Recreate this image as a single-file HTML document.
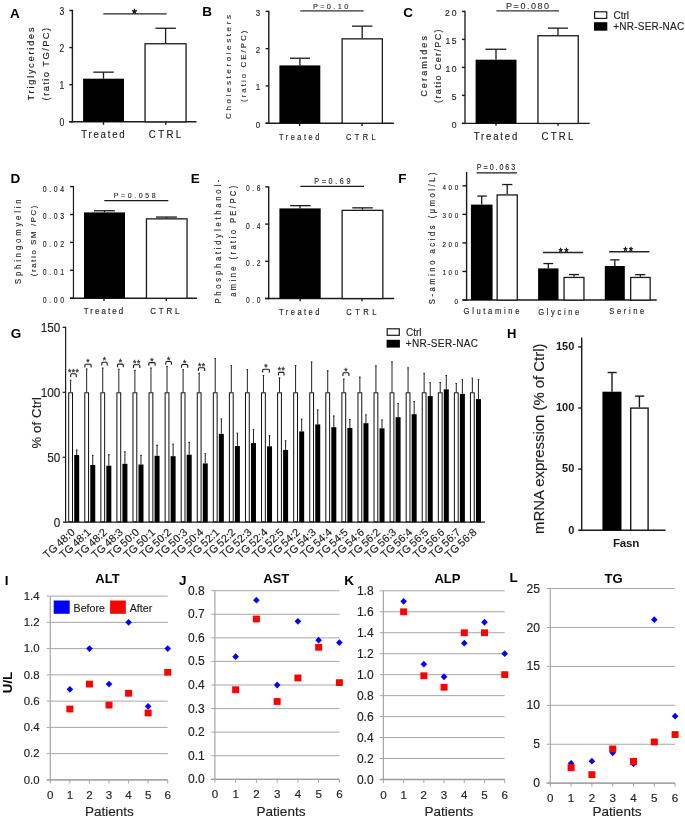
<!DOCTYPE html>
<html><head><meta charset="utf-8"><title>Figure</title>
<style>html,body{margin:0;padding:0;background:#fff;width:685px;height:821px;overflow:hidden}svg{display:block}</style>
</head><body>
<svg width="685" height="821" viewBox="0 0 685 821" style="will-change:transform" font-family='"Liberation Sans", sans-serif'>
<rect width="685" height="821" fill="#fff"/>
<text x="10.06" y="17.50" font-size="13.5" font-weight="bold" fill="#000" >A</text>
<line x1="72.40" y1="9.80" x2="72.40" y2="122.50" stroke="#1a1a1a" stroke-width="1.4" />
<line x1="69.30" y1="121.80" x2="196.50" y2="121.80" stroke="#1a1a1a" stroke-width="1.4" />
<line x1="69.30" y1="121.80" x2="72.40" y2="121.80" stroke="#1a1a1a" stroke-width="1.4" />
<line x1="69.30" y1="84.70" x2="72.40" y2="84.70" stroke="#1a1a1a" stroke-width="1.4" />
<line x1="69.30" y1="47.60" x2="72.40" y2="47.60" stroke="#1a1a1a" stroke-width="1.4" />
<line x1="69.30" y1="10.50" x2="72.40" y2="10.50" stroke="#1a1a1a" stroke-width="1.4" />
<text x="0.00" y="0.00" font-size="10.1" text-anchor="end" transform="translate(64.24 126.07) scale(0.85 1)" stroke="#1e1e1e" stroke-width="0.15" fill="#1e1e1e" >0</text>
<text x="0.00" y="0.00" font-size="10.1" text-anchor="end" transform="translate(64.24 88.97) scale(0.85 1)" stroke="#1e1e1e" stroke-width="0.15" fill="#1e1e1e" >1</text>
<text x="0.00" y="0.00" font-size="10.1" text-anchor="end" transform="translate(64.24 51.87) scale(0.85 1)" stroke="#1e1e1e" stroke-width="0.15" fill="#1e1e1e" >2</text>
<text x="0.00" y="0.00" font-size="10.1" text-anchor="end" transform="translate(64.24 14.77) scale(0.85 1)" stroke="#1e1e1e" stroke-width="0.15" fill="#1e1e1e" >3</text>
<rect x="83.10" y="78.70" width="40.90" height="43.10" fill="#000"/>
<line x1="103.50" y1="78.70" x2="103.50" y2="72.15" stroke="#1a1a1a" stroke-width="1.3" />
<line x1="93.30" y1="72.15" x2="113.70" y2="72.15" stroke="#1a1a1a" stroke-width="1.3" />
<rect x="145.05" y="43.75" width="41.00" height="78.10" fill="#fff" stroke="#1a1a1a" stroke-width="1.3"/>
<line x1="165.60" y1="43.10" x2="165.60" y2="28.25" stroke="#1a1a1a" stroke-width="1.3" />
<line x1="155.40" y1="28.25" x2="175.90" y2="28.25" stroke="#1a1a1a" stroke-width="1.3" />
<line x1="103.50" y1="121.80" x2="103.50" y2="124.80" stroke="#1a1a1a" stroke-width="1.4" />
<line x1="165.70" y1="121.80" x2="165.70" y2="124.80" stroke="#1a1a1a" stroke-width="1.4" />
<text x="0.00" y="0.00" font-size="11.2" textLength="50.35" lengthAdjust="spacing" transform="translate(81.30 137.90) scale(0.86 1)" stroke="#1e1e1e" stroke-width="0.15" fill="#1e1e1e" >Treated</text>
<text x="0.00" y="0.00" font-size="11.2" textLength="37.67" lengthAdjust="spacing" transform="translate(148.80 137.90) scale(0.86 1)" stroke="#1e1e1e" stroke-width="0.15" fill="#1e1e1e" >CTRL</text>
<line x1="103.30" y1="13.90" x2="166.70" y2="13.90" stroke="#262626" stroke-width="1.4" />
<text x="134.35" y="18.20" font-size="12.5" text-anchor="middle" stroke="#111" stroke-width="0.55" fill="#111" >*</text>
<text x="33.80" y="64.00" font-size="9" text-anchor="middle" textLength="72.80" lengthAdjust="spacing" transform="rotate(-90 33.80 64.00)" stroke="#1e1e1e" stroke-width="0.15" fill="#1e1e1e" >Triglycerides</text>
<text x="48.80" y="64.10" font-size="9.4" text-anchor="middle" textLength="72.60" lengthAdjust="spacing" transform="rotate(-90 48.80 64.10)" stroke="#1e1e1e" stroke-width="0.15" fill="#1e1e1e" >(ratio TG/PC)</text>
<text x="202.20" y="15.50" font-size="13.5" font-weight="bold" fill="#000" >B</text>
<line x1="268.80" y1="10.69" x2="268.80" y2="123.90" stroke="#1a1a1a" stroke-width="1.4" />
<line x1="265.60" y1="123.20" x2="393.80" y2="123.20" stroke="#1a1a1a" stroke-width="1.4" />
<line x1="265.60" y1="123.20" x2="268.80" y2="123.20" stroke="#1a1a1a" stroke-width="1.4" />
<line x1="265.60" y1="85.93" x2="268.80" y2="85.93" stroke="#1a1a1a" stroke-width="1.4" />
<line x1="265.60" y1="48.66" x2="268.80" y2="48.66" stroke="#1a1a1a" stroke-width="1.4" />
<line x1="265.60" y1="11.39" x2="268.80" y2="11.39" stroke="#1a1a1a" stroke-width="1.4" />
<text x="0.00" y="0.00" font-size="8.7" text-anchor="end" transform="translate(260.22 127.59) scale(0.91 1)" stroke="#1e1e1e" stroke-width="0.15" fill="#1e1e1e" >0</text>
<text x="0.00" y="0.00" font-size="8.7" text-anchor="end" transform="translate(260.22 90.32) scale(0.91 1)" stroke="#1e1e1e" stroke-width="0.15" fill="#1e1e1e" >1</text>
<text x="0.00" y="0.00" font-size="8.7" text-anchor="end" transform="translate(260.22 53.05) scale(0.91 1)" stroke="#1e1e1e" stroke-width="0.15" fill="#1e1e1e" >2</text>
<text x="0.00" y="0.00" font-size="8.7" text-anchor="end" transform="translate(260.22 15.78) scale(0.91 1)" stroke="#1e1e1e" stroke-width="0.15" fill="#1e1e1e" >3</text>
<rect x="279.40" y="65.40" width="40.90" height="57.80" fill="#000"/>
<line x1="299.90" y1="65.40" x2="299.90" y2="58.25" stroke="#1a1a1a" stroke-width="1.3" />
<line x1="290.00" y1="58.25" x2="310.00" y2="58.25" stroke="#1a1a1a" stroke-width="1.3" />
<rect x="342.15" y="38.85" width="40.20" height="84.40" fill="#fff" stroke="#1a1a1a" stroke-width="1.3"/>
<line x1="362.20" y1="38.20" x2="362.20" y2="26.15" stroke="#1a1a1a" stroke-width="1.3" />
<line x1="352.00" y1="26.15" x2="372.40" y2="26.15" stroke="#1a1a1a" stroke-width="1.3" />
<line x1="299.60" y1="123.20" x2="299.60" y2="126.00" stroke="#1a1a1a" stroke-width="1.4" />
<line x1="362.00" y1="123.20" x2="362.00" y2="126.00" stroke="#1a1a1a" stroke-width="1.4" />
<text x="0.00" y="0.00" font-size="8.7" textLength="47.41" lengthAdjust="spacing" transform="translate(279.00 139.80) scale(0.85 1)" stroke="#1e1e1e" stroke-width="0.15" fill="#1e1e1e" >Treated</text>
<text x="0.00" y="0.00" font-size="8.7" textLength="34.82" lengthAdjust="spacing" transform="translate(346.00 139.80) scale(0.85 1)" stroke="#1e1e1e" stroke-width="0.15" fill="#1e1e1e" >CTRL</text>
<line x1="300.20" y1="10.90" x2="363.60" y2="10.90" stroke="#333" stroke-width="1.4" />
<text x="312.90" y="8.70" font-size="7.4" textLength="35.40" lengthAdjust="spacing" stroke="#333" stroke-width="0.15" fill="#333" >P=0.10</text>
<text x="230.90" y="67.05" font-size="8.0" text-anchor="middle" textLength="103.90" lengthAdjust="spacing" transform="rotate(-90 230.90 67.05)" stroke="#2a2a2a" stroke-width="0.1" fill="#2a2a2a" >Cholesterolesters</text>
<text x="246.20" y="66.30" font-size="7.9" text-anchor="middle" textLength="71.40" lengthAdjust="spacing" transform="rotate(-90 246.20 66.30)" stroke="#2a2a2a" stroke-width="0.1" fill="#2a2a2a" >(ratio CE/PC)</text>
<text x="403.15" y="17.40" font-size="13.5" font-weight="bold" fill="#000" >C</text>
<line x1="465.00" y1="10.74" x2="465.00" y2="123.90" stroke="#5e5e5e" stroke-width="1.9" />
<line x1="461.90" y1="123.40" x2="589.70" y2="123.40" stroke="#1a1a1a" stroke-width="1.2" />
<line x1="461.90" y1="123.40" x2="465.00" y2="123.40" stroke="#1a1a1a" stroke-width="1.4" />
<line x1="461.90" y1="95.41" x2="465.00" y2="95.41" stroke="#1a1a1a" stroke-width="1.4" />
<line x1="461.90" y1="67.42" x2="465.00" y2="67.42" stroke="#1a1a1a" stroke-width="1.4" />
<line x1="461.90" y1="39.43" x2="465.00" y2="39.43" stroke="#1a1a1a" stroke-width="1.4" />
<line x1="461.90" y1="11.44" x2="465.00" y2="11.44" stroke="#1a1a1a" stroke-width="1.4" />
<text x="0.00" y="0.00" font-size="9.4" text-anchor="end" transform="translate(456.65 127.93) scale(0.92 1)" stroke="#1e1e1e" stroke-width="0.15" fill="#1e1e1e" >0</text>
<text x="0.00" y="0.00" font-size="9.4" text-anchor="end" transform="translate(456.65 99.94) scale(0.92 1)" stroke="#1e1e1e" stroke-width="0.15" fill="#1e1e1e" >5</text>
<text x="0.00" y="0.00" font-size="9.4" textLength="12.07" lengthAdjust="spacing" transform="translate(445.50 71.95) scale(0.92 1)" stroke="#1e1e1e" stroke-width="0.15" fill="#1e1e1e" >10</text>
<text x="0.00" y="0.00" font-size="9.4" textLength="12.07" lengthAdjust="spacing" transform="translate(445.50 43.96) scale(0.92 1)" stroke="#1e1e1e" stroke-width="0.15" fill="#1e1e1e" >15</text>
<text x="0.00" y="0.00" font-size="9.4" textLength="12.50" lengthAdjust="spacing" transform="translate(445.10 15.97) scale(0.92 1)" stroke="#1e1e1e" stroke-width="0.15" fill="#1e1e1e" >20</text>
<rect x="475.60" y="59.70" width="40.90" height="63.70" fill="#000"/>
<line x1="496.00" y1="59.70" x2="496.00" y2="49.25" stroke="#1a1a1a" stroke-width="1.3" />
<line x1="485.40" y1="49.25" x2="506.30" y2="49.25" stroke="#1a1a1a" stroke-width="1.3" />
<rect x="537.95" y="35.75" width="40.30" height="87.70" fill="#fff" stroke="#1a1a1a" stroke-width="1.3"/>
<line x1="558.00" y1="35.10" x2="558.00" y2="28.15" stroke="#1a1a1a" stroke-width="1.3" />
<line x1="548.00" y1="28.15" x2="568.00" y2="28.15" stroke="#1a1a1a" stroke-width="1.3" />
<line x1="496.00" y1="123.40" x2="496.00" y2="125.80" stroke="#1a1a1a" stroke-width="1.4" />
<line x1="558.00" y1="123.40" x2="558.00" y2="125.80" stroke="#1a1a1a" stroke-width="1.4" />
<text x="0.00" y="0.00" font-size="10.3" textLength="46.77" lengthAdjust="spacing" transform="translate(473.80 139.50) scale(0.93 1)" stroke="#1e1e1e" stroke-width="0.15" fill="#1e1e1e" >Treated</text>
<text x="0.00" y="0.00" font-size="10.3" textLength="34.30" lengthAdjust="spacing" transform="translate(541.50 139.50) scale(0.93 1)" stroke="#1e1e1e" stroke-width="0.15" fill="#1e1e1e" >CTRL</text>
<line x1="496.50" y1="10.80" x2="558.90" y2="10.80" stroke="#333" stroke-width="1.3" />
<text x="506.10" y="8.60" font-size="9.0" textLength="42.90" lengthAdjust="spacing" stroke="#333" stroke-width="0.15" fill="#333" >P=0.080</text>
<text x="0.00" y="0.00" font-size="9.9" text-anchor="middle" textLength="66.81" lengthAdjust="spacing" transform="translate(426.60 66.40) rotate(-90) scale(0.91 1)" stroke="#1e1e1e" stroke-width="0.15" fill="#1e1e1e" >Ceramides</text>
<text x="0.00" y="0.00" font-size="9.9" text-anchor="middle" textLength="80.88" lengthAdjust="spacing" transform="translate(441.30 66.20) rotate(-90) scale(0.91 1)" stroke="#1e1e1e" stroke-width="0.15" fill="#1e1e1e" >(ratio Cer/PC)</text>
<rect x="594.60" y="11.80" width="12.10" height="6.60" fill="#fff" stroke="#1a1a1a" stroke-width="1.2"/>
<rect x="594.00" y="22.20" width="13.30" height="8.50" fill="#000"/>
<text x="613.50" y="18.60" font-size="10" stroke="#222" stroke-width="0.15" fill="#222" >Ctrl</text>
<text x="613.30" y="29.90" font-size="10" textLength="70.90" lengthAdjust="spacing" stroke="#222" stroke-width="0.15" fill="#222" >+NR-SER-NAC</text>
<text x="10.50" y="183.10" font-size="13.5" font-weight="bold" fill="#000" >D</text>
<line x1="73.45" y1="186.00" x2="73.45" y2="298.80" stroke="#1a1a1a" stroke-width="1.2" />
<line x1="70.10" y1="298.20" x2="196.90" y2="298.20" stroke="#1a1a1a" stroke-width="1.4" />
<line x1="70.10" y1="298.20" x2="73.45" y2="298.20" stroke="#1a1a1a" stroke-width="1.4" />
<line x1="70.10" y1="270.30" x2="73.45" y2="270.30" stroke="#1a1a1a" stroke-width="1.4" />
<line x1="70.10" y1="242.40" x2="73.45" y2="242.40" stroke="#1a1a1a" stroke-width="1.4" />
<line x1="70.10" y1="214.50" x2="73.45" y2="214.50" stroke="#1a1a1a" stroke-width="1.4" />
<line x1="70.10" y1="186.60" x2="73.45" y2="186.60" stroke="#1a1a1a" stroke-width="1.4" />
<text x="0.00" y="0.00" font-size="8.9" textLength="27.56" lengthAdjust="spacing" transform="translate(42.70 303.16) scale(0.78 1)" stroke="#1e1e1e" stroke-width="0.15" fill="#1e1e1e" >0.00</text>
<text x="0.00" y="0.00" font-size="8.9" textLength="27.56" lengthAdjust="spacing" transform="translate(42.70 275.26) scale(0.78 1)" stroke="#1e1e1e" stroke-width="0.15" fill="#1e1e1e" >0.01</text>
<text x="0.00" y="0.00" font-size="8.9" textLength="27.56" lengthAdjust="spacing" transform="translate(42.70 247.36) scale(0.78 1)" stroke="#1e1e1e" stroke-width="0.15" fill="#1e1e1e" >0.02</text>
<text x="0.00" y="0.00" font-size="8.9" textLength="27.56" lengthAdjust="spacing" transform="translate(42.70 219.46) scale(0.78 1)" stroke="#1e1e1e" stroke-width="0.15" fill="#1e1e1e" >0.03</text>
<text x="0.00" y="0.00" font-size="8.9" textLength="27.56" lengthAdjust="spacing" transform="translate(42.70 191.56) scale(0.78 1)" stroke="#1e1e1e" stroke-width="0.15" fill="#1e1e1e" >0.04</text>
<rect x="84.00" y="212.40" width="41.00" height="85.80" fill="#000"/>
<line x1="104.50" y1="212.40" x2="104.50" y2="210.75" stroke="#1a1a1a" stroke-width="1.3" />
<line x1="94.00" y1="210.75" x2="114.90" y2="210.75" stroke="#1a1a1a" stroke-width="1.3" />
<rect x="146.45" y="218.85" width="40.60" height="79.40" fill="#fff" stroke="#1a1a1a" stroke-width="1.3"/>
<line x1="166.50" y1="218.20" x2="166.50" y2="217.05" stroke="#1a1a1a" stroke-width="1.3" />
<line x1="156.00" y1="217.05" x2="176.90" y2="217.05" stroke="#1a1a1a" stroke-width="1.3" />
<line x1="104.00" y1="298.20" x2="104.00" y2="301.00" stroke="#1a1a1a" stroke-width="1.4" />
<line x1="166.30" y1="298.20" x2="166.30" y2="301.00" stroke="#1a1a1a" stroke-width="1.4" />
<text x="0.00" y="0.00" font-size="8.5" textLength="42.02" lengthAdjust="spacing" transform="translate(83.70 313.90) scale(0.94 1)" stroke="#1e1e1e" stroke-width="0.15" fill="#1e1e1e" >Treated</text>
<text x="0.00" y="0.00" font-size="8.5" textLength="31.06" lengthAdjust="spacing" transform="translate(150.20 313.90) scale(0.94 1)" stroke="#1e1e1e" stroke-width="0.15" fill="#1e1e1e" >CTRL</text>
<line x1="104.30" y1="200.50" x2="168.30" y2="200.50" stroke="#1a1a1a" stroke-width="1.25" />
<text x="0.00" y="0.00" font-size="8.0" textLength="47.84" lengthAdjust="spacing" transform="translate(113.70 198.00) scale(0.88 1)" stroke="#2a2a2a" stroke-width="0.15" fill="#2a2a2a" >P=0.058</text>
<text x="0.00" y="0.00" font-size="8.3" text-anchor="middle" textLength="91.96" lengthAdjust="spacing" transform="translate(21.30 241.70) rotate(-90) scale(0.92 1)" stroke="#1e1e1e" stroke-width="0.15" fill="#1e1e1e" >Sphingomyelin</text>
<text x="0.00" y="0.00" font-size="8.0" text-anchor="middle" textLength="74.42" lengthAdjust="spacing" transform="translate(36.30 240.95) rotate(-90) scale(0.95 1)" stroke="#1e1e1e" stroke-width="0.15" fill="#1e1e1e" >(ratio SM /PC)</text>
<text x="190.80" y="183.00" font-size="13.5" font-weight="bold" fill="#000" >E</text>
<line x1="268.70" y1="186.20" x2="268.70" y2="299.20" stroke="#1a1a1a" stroke-width="1.4" />
<line x1="265.20" y1="298.50" x2="394.20" y2="298.50" stroke="#1a1a1a" stroke-width="1.4" />
<line x1="265.20" y1="298.50" x2="268.70" y2="298.50" stroke="#1a1a1a" stroke-width="1.4" />
<line x1="265.20" y1="261.30" x2="268.70" y2="261.30" stroke="#1a1a1a" stroke-width="1.4" />
<line x1="265.20" y1="224.10" x2="268.70" y2="224.10" stroke="#1a1a1a" stroke-width="1.4" />
<line x1="265.20" y1="186.90" x2="268.70" y2="186.90" stroke="#1a1a1a" stroke-width="1.4" />
<text x="0.00" y="0.00" font-size="9.3" textLength="20.00" lengthAdjust="spacing" transform="translate(246.00 303.00) scale(0.72 1)" stroke="#1e1e1e" stroke-width="0.15" fill="#1e1e1e" >0.0</text>
<text x="0.00" y="0.00" font-size="9.3" textLength="20.00" lengthAdjust="spacing" transform="translate(246.00 265.80) scale(0.72 1)" stroke="#1e1e1e" stroke-width="0.15" fill="#1e1e1e" >0.2</text>
<text x="0.00" y="0.00" font-size="9.3" textLength="20.00" lengthAdjust="spacing" transform="translate(246.00 228.60) scale(0.72 1)" stroke="#1e1e1e" stroke-width="0.15" fill="#1e1e1e" >0.4</text>
<text x="0.00" y="0.00" font-size="9.3" textLength="20.00" lengthAdjust="spacing" transform="translate(246.00 191.40) scale(0.72 1)" stroke="#1e1e1e" stroke-width="0.15" fill="#1e1e1e" >0.6</text>
<rect x="279.40" y="208.40" width="41.30" height="90.10" fill="#000"/>
<line x1="300.00" y1="208.40" x2="300.00" y2="205.65" stroke="#1a1a1a" stroke-width="1.3" />
<line x1="290.10" y1="205.65" x2="310.60" y2="205.65" stroke="#1a1a1a" stroke-width="1.3" />
<rect x="342.15" y="210.35" width="40.70" height="88.20" fill="#fff" stroke="#1a1a1a" stroke-width="1.3"/>
<line x1="362.50" y1="209.70" x2="362.50" y2="207.85" stroke="#1a1a1a" stroke-width="1.3" />
<line x1="352.30" y1="207.85" x2="372.80" y2="207.85" stroke="#1a1a1a" stroke-width="1.3" />
<line x1="300.10" y1="298.50" x2="300.10" y2="301.20" stroke="#1a1a1a" stroke-width="1.4" />
<line x1="362.00" y1="298.50" x2="362.00" y2="301.20" stroke="#1a1a1a" stroke-width="1.4" />
<text x="0.00" y="0.00" font-size="8.5" textLength="45.00" lengthAdjust="spacing" transform="translate(279.00 314.90) scale(0.9 1)" stroke="#1e1e1e" stroke-width="0.15" fill="#1e1e1e" >Treated</text>
<text x="0.00" y="0.00" font-size="8.5" textLength="33.56" lengthAdjust="spacing" transform="translate(346.20 314.90) scale(0.9 1)" stroke="#1e1e1e" stroke-width="0.15" fill="#1e1e1e" >CTRL</text>
<line x1="300.30" y1="186.30" x2="364.00" y2="186.30" stroke="#1a1a1a" stroke-width="1.25" />
<text x="0.00" y="0.00" font-size="8.2" textLength="41.14" lengthAdjust="spacing" transform="translate(314.30 183.80) scale(0.88 1)" stroke="#2a2a2a" stroke-width="0.15" fill="#2a2a2a" >P=0.69</text>
<text x="0.00" y="0.00" font-size="8.7" text-anchor="middle" textLength="142.53" lengthAdjust="spacing" transform="translate(220.80 241.60) rotate(-90) scale(0.87 1)" stroke="#1e1e1e" stroke-width="0.15" fill="#1e1e1e" >Phosphatidylethanol-</text>
<text x="0.00" y="0.00" font-size="8.7" text-anchor="middle" textLength="127.70" lengthAdjust="spacing" transform="translate(236.10 241.25) rotate(-90) scale(0.87 1)" stroke="#1e1e1e" stroke-width="0.15" fill="#1e1e1e" >amine (ratio PE/PC)</text>
<text x="398.30" y="183.00" font-size="13.5" font-weight="bold" fill="#000" >F</text>
<line x1="466.60" y1="172.00" x2="466.60" y2="300.70" stroke="#1a1a1a" stroke-width="1.4" />
<line x1="462.40" y1="300.00" x2="656.80" y2="300.00" stroke="#1a1a1a" stroke-width="1.4" />
<line x1="462.40" y1="300.00" x2="466.60" y2="300.00" stroke="#1a1a1a" stroke-width="1.4" />
<line x1="462.40" y1="271.45" x2="466.60" y2="271.45" stroke="#1a1a1a" stroke-width="1.4" />
<line x1="462.40" y1="242.90" x2="466.60" y2="242.90" stroke="#1a1a1a" stroke-width="1.4" />
<line x1="462.40" y1="214.35" x2="466.60" y2="214.35" stroke="#1a1a1a" stroke-width="1.4" />
<line x1="462.40" y1="185.80" x2="466.60" y2="185.80" stroke="#1a1a1a" stroke-width="1.4" />
<text x="0.00" y="0.00" font-size="8.1" text-anchor="end" transform="translate(458.05 303.79) scale(0.77 1)" stroke="#1e1e1e" stroke-width="0.15" fill="#1e1e1e" >0</text>
<text x="0.00" y="0.00" font-size="8.1" textLength="20.39" lengthAdjust="spacing" transform="translate(442.40 275.24) scale(0.77 1)" stroke="#1e1e1e" stroke-width="0.15" fill="#1e1e1e" >100</text>
<text x="0.00" y="0.00" font-size="8.1" textLength="20.39" lengthAdjust="spacing" transform="translate(442.40 246.69) scale(0.77 1)" stroke="#1e1e1e" stroke-width="0.15" fill="#1e1e1e" >200</text>
<text x="0.00" y="0.00" font-size="8.1" textLength="20.39" lengthAdjust="spacing" transform="translate(442.40 218.14) scale(0.77 1)" stroke="#1e1e1e" stroke-width="0.15" fill="#1e1e1e" >300</text>
<text x="0.00" y="0.00" font-size="8.1" textLength="20.39" lengthAdjust="spacing" transform="translate(442.40 189.59) scale(0.77 1)" stroke="#1e1e1e" stroke-width="0.15" fill="#1e1e1e" >400</text>
<rect x="470.90" y="204.60" width="21.70" height="95.40" fill="#000"/>
<line x1="481.70" y1="204.60" x2="481.70" y2="196.05" stroke="#1a1a1a" stroke-width="1.3" />
<line x1="477.30" y1="196.05" x2="486.90" y2="196.05" stroke="#1a1a1a" stroke-width="1.3" />
<rect x="497.15" y="194.95" width="20.10" height="105.10" fill="#fff" stroke="#1a1a1a" stroke-width="1.3"/>
<line x1="507.20" y1="194.30" x2="507.20" y2="184.55" stroke="#1a1a1a" stroke-width="1.3" />
<line x1="502.20" y1="184.55" x2="512.40" y2="184.55" stroke="#1a1a1a" stroke-width="1.3" />
<line x1="476.60" y1="172.90" x2="516.90" y2="172.90" stroke="#1a1a1a" stroke-width="1.4" />
<text x="0.00" y="0.00" font-size="8.2" textLength="43.75" lengthAdjust="spacing" transform="translate(476.80 169.80) scale(0.88 1)" stroke="#2a2a2a" stroke-width="0.15" fill="#2a2a2a" >P=0.063</text>
<rect x="538.10" y="268.40" width="20.40" height="31.60" fill="#000"/>
<line x1="548.30" y1="268.40" x2="548.30" y2="263.55" stroke="#1a1a1a" stroke-width="1.3" />
<line x1="543.40" y1="263.55" x2="553.20" y2="263.55" stroke="#1a1a1a" stroke-width="1.3" />
<rect x="564.05" y="277.45" width="19.90" height="22.60" fill="#fff" stroke="#1a1a1a" stroke-width="1.3"/>
<line x1="574.00" y1="276.80" x2="574.00" y2="274.55" stroke="#1a1a1a" stroke-width="1.3" />
<line x1="568.90" y1="274.55" x2="579.00" y2="274.55" stroke="#1a1a1a" stroke-width="1.3" />
<line x1="542.90" y1="252.60" x2="583.10" y2="252.60" stroke="#262626" stroke-width="1.5" />
<text x="560.70" y="256.28" font-size="10" text-anchor="middle" stroke="#111" stroke-width="0.45" fill="#111" >*</text>
<text x="566.40" y="256.28" font-size="10" text-anchor="middle" stroke="#111" stroke-width="0.45" fill="#111" >*</text>
<rect x="604.80" y="266.00" width="20.00" height="34.00" fill="#000"/>
<line x1="614.80" y1="266.00" x2="614.80" y2="259.85" stroke="#1a1a1a" stroke-width="1.3" />
<line x1="610.30" y1="259.85" x2="619.50" y2="259.85" stroke="#1a1a1a" stroke-width="1.3" />
<rect x="630.65" y="277.45" width="19.50" height="22.60" fill="#fff" stroke="#1a1a1a" stroke-width="1.3"/>
<line x1="640.40" y1="276.80" x2="640.40" y2="274.65" stroke="#1a1a1a" stroke-width="1.3" />
<line x1="635.10" y1="274.65" x2="645.30" y2="274.65" stroke="#1a1a1a" stroke-width="1.3" />
<line x1="609.10" y1="251.80" x2="649.40" y2="251.80" stroke="#262626" stroke-width="1.5" />
<text x="625.50" y="255.38" font-size="10" text-anchor="middle" stroke="#111" stroke-width="0.45" fill="#111" >*</text>
<text x="631.00" y="255.38" font-size="10" text-anchor="middle" stroke="#111" stroke-width="0.45" fill="#111" >*</text>
<text x="0.00" y="0.00" font-size="8.6" textLength="63.41" lengthAdjust="spacing" transform="translate(463.60 314.40) scale(0.88 1)" stroke="#1e1e1e" stroke-width="0.15" fill="#1e1e1e" >Glutamine</text>
<text x="0.00" y="0.00" font-size="8.6" textLength="46.70" lengthAdjust="spacing" transform="translate(538.20 314.50) scale(0.88 1)" stroke="#1e1e1e" stroke-width="0.15" fill="#1e1e1e" >Glycine</text>
<text x="0.00" y="0.00" font-size="8.6" textLength="39.77" lengthAdjust="spacing" transform="translate(609.30 314.40) scale(0.88 1)" stroke="#1e1e1e" stroke-width="0.15" fill="#1e1e1e" >Serine</text>
<text x="0.00" y="0.00" font-size="9.0" text-anchor="middle" textLength="156.79" lengthAdjust="spacing" transform="translate(434.50 238.35) rotate(-90) scale(0.84 1)" stroke="#1e1e1e" stroke-width="0.15" fill="#1e1e1e" >S-amino acids (&#956;mol/L)</text>
<text x="10.65" y="338.10" font-size="13.5" font-weight="bold" fill="#000" >G</text>
<line x1="65.60" y1="326.75" x2="65.60" y2="522.80" stroke="#1a1a1a" stroke-width="1.2" />
<line x1="63.00" y1="522.20" x2="485.00" y2="522.20" stroke="#1a1a1a" stroke-width="1.3" />
<line x1="62.60" y1="457.25" x2="65.60" y2="457.25" stroke="#1a1a1a" stroke-width="1.2" />
<line x1="62.60" y1="392.30" x2="65.60" y2="392.30" stroke="#1a1a1a" stroke-width="1.2" />
<line x1="62.60" y1="327.35" x2="65.60" y2="327.35" stroke="#1a1a1a" stroke-width="1.2" />
<text x="0.00" y="0.00" font-size="12.4" text-anchor="end" transform="translate(60.40 526.50) scale(0.95 1)" stroke="#222" stroke-width="0.15" fill="#222" >0</text>
<text x="0.00" y="0.00" font-size="12.4" text-anchor="end" transform="translate(60.40 461.55) scale(0.95 1)" stroke="#222" stroke-width="0.15" fill="#222" >50</text>
<text x="0.00" y="0.00" font-size="12.4" text-anchor="end" transform="translate(60.40 396.60) scale(0.95 1)" stroke="#222" stroke-width="0.15" fill="#222" >100</text>
<text x="0.00" y="0.00" font-size="12.4" text-anchor="end" transform="translate(60.40 331.65) scale(0.95 1)" stroke="#222" stroke-width="0.15" fill="#222" >150</text>
<text x="40.90" y="422.85" font-size="13" text-anchor="middle" textLength="51.50" lengthAdjust="spacing" transform="rotate(-90 40.90 422.85)" stroke="#1e1e1e" stroke-width="0.15" fill="#1e1e1e" >% of Ctrl</text>
<rect x="387.20" y="328.80" width="12.10" height="6.50" fill="#fff" stroke="#1a1a1a" stroke-width="1.2"/>
<rect x="386.60" y="339.80" width="13.30" height="7.80" fill="#000"/>
<text x="406.00" y="335.60" font-size="10" stroke="#222" stroke-width="0.15" fill="#222" >Ctrl</text>
<text x="405.80" y="347.20" font-size="10" textLength="72.20" lengthAdjust="spacing" stroke="#222" stroke-width="0.15" fill="#222" >+NR-SER-NAC</text>
<rect x="68.70" y="392.80" width="3.80" height="128.90" fill="#fff" stroke="#111" stroke-width="1.0"/>
<line x1="70.60" y1="392.30" x2="70.60" y2="379.90" stroke="#222" stroke-width="1.0" />
<line x1="69.80" y1="380.30" x2="71.40" y2="380.30" stroke="#222" stroke-width="0.9" />
<rect x="74.20" y="455.00" width="5.00" height="67.20" fill="#000"/>
<line x1="76.70" y1="455.00" x2="76.70" y2="449.60" stroke="#222" stroke-width="1.0" />
<line x1="75.90" y1="450.00" x2="77.50" y2="450.00" stroke="#222" stroke-width="0.9" />
<path d="M70.70 376.90 L70.70 374.70 Q70.70 373.70 71.70 373.70 L75.20 373.70 Q76.20 373.70 76.20 374.70 L76.20 376.90" fill="none" stroke="#1a1a1a" stroke-width="1.1"/>
<text x="69.60" y="374.72" font-size="8.6" text-anchor="middle" stroke="#333" stroke-width="0.3" fill="#333" >*</text>
<text x="73.45" y="374.72" font-size="8.6" text-anchor="middle" stroke="#333" stroke-width="0.3" fill="#333" >*</text>
<text x="77.30" y="374.72" font-size="8.6" text-anchor="middle" stroke="#333" stroke-width="0.3" fill="#333" >*</text>
<text x="75.60" y="533.20" font-size="10.8" text-anchor="end" transform="rotate(-42.5 75.60 533.20)" stroke="#222" stroke-width="0.15" fill="#222" word-spacing="-0.7">TG 48:0</text>
<rect x="84.77" y="392.80" width="3.80" height="128.90" fill="#fff" stroke="#111" stroke-width="1.0"/>
<line x1="86.67" y1="392.30" x2="86.67" y2="368.60" stroke="#222" stroke-width="1.0" />
<line x1="85.87" y1="369.00" x2="87.47" y2="369.00" stroke="#222" stroke-width="0.9" />
<rect x="90.27" y="465.00" width="5.00" height="57.20" fill="#000"/>
<line x1="92.77" y1="465.00" x2="92.77" y2="455.00" stroke="#222" stroke-width="1.0" />
<line x1="91.97" y1="455.40" x2="93.57" y2="455.40" stroke="#222" stroke-width="0.9" />
<path d="M84.90 367.50 L84.90 365.30 Q84.90 364.30 85.90 364.30 L90.10 364.30 Q91.10 364.30 91.10 365.30 L91.10 367.50" fill="none" stroke="#1a1a1a" stroke-width="1.1"/>
<text x="88.00" y="365.32" font-size="8.6" text-anchor="middle" stroke="#333" stroke-width="0.3" fill="#333" >*</text>
<text x="91.67" y="533.20" font-size="10.8" text-anchor="end" transform="rotate(-42.5 91.67 533.20)" stroke="#222" stroke-width="0.15" fill="#222" word-spacing="-0.7">TG 48:1</text>
<rect x="100.84" y="392.80" width="3.80" height="128.90" fill="#fff" stroke="#111" stroke-width="1.0"/>
<line x1="102.74" y1="392.30" x2="102.74" y2="367.70" stroke="#222" stroke-width="1.0" />
<line x1="101.94" y1="368.10" x2="103.54" y2="368.10" stroke="#222" stroke-width="0.9" />
<rect x="106.34" y="465.70" width="5.00" height="56.50" fill="#000"/>
<line x1="108.84" y1="465.70" x2="108.84" y2="454.30" stroke="#222" stroke-width="1.0" />
<line x1="108.04" y1="454.70" x2="109.64" y2="454.70" stroke="#222" stroke-width="0.9" />
<path d="M101.80 365.40 L101.80 363.20 Q101.80 362.20 102.80 362.20 L106.20 362.20 Q107.20 362.20 107.20 363.20 L107.20 365.40" fill="none" stroke="#1a1a1a" stroke-width="1.1"/>
<text x="104.50" y="363.22" font-size="8.6" text-anchor="middle" stroke="#333" stroke-width="0.3" fill="#333" >*</text>
<text x="107.74" y="533.20" font-size="10.8" text-anchor="end" transform="rotate(-42.5 107.74 533.20)" stroke="#222" stroke-width="0.15" fill="#222" word-spacing="-0.7">TG 48:2</text>
<rect x="116.91" y="392.80" width="3.80" height="128.90" fill="#fff" stroke="#111" stroke-width="1.0"/>
<line x1="118.81" y1="392.30" x2="118.81" y2="368.90" stroke="#222" stroke-width="1.0" />
<line x1="118.01" y1="369.30" x2="119.61" y2="369.30" stroke="#222" stroke-width="0.9" />
<rect x="122.41" y="463.80" width="5.00" height="58.40" fill="#000"/>
<line x1="124.91" y1="463.80" x2="124.91" y2="451.40" stroke="#222" stroke-width="1.0" />
<line x1="124.11" y1="451.80" x2="125.71" y2="451.80" stroke="#222" stroke-width="0.9" />
<path d="M117.50 367.30 L117.50 365.10 Q117.50 364.10 118.50 364.10 L122.30 364.10 Q123.30 364.10 123.30 365.10 L123.30 367.30" fill="none" stroke="#1a1a1a" stroke-width="1.1"/>
<text x="120.40" y="365.12" font-size="8.6" text-anchor="middle" stroke="#333" stroke-width="0.3" fill="#333" >*</text>
<text x="123.81" y="533.20" font-size="10.8" text-anchor="end" transform="rotate(-42.5 123.81 533.20)" stroke="#222" stroke-width="0.15" fill="#222" word-spacing="-0.7">TG 48:3</text>
<rect x="132.98" y="392.80" width="3.80" height="128.90" fill="#fff" stroke="#111" stroke-width="1.0"/>
<line x1="134.88" y1="392.30" x2="134.88" y2="369.90" stroke="#222" stroke-width="1.0" />
<line x1="134.08" y1="370.30" x2="135.68" y2="370.30" stroke="#222" stroke-width="0.9" />
<rect x="138.48" y="464.50" width="5.00" height="57.70" fill="#000"/>
<line x1="140.98" y1="464.50" x2="140.98" y2="455.00" stroke="#222" stroke-width="1.0" />
<line x1="140.18" y1="455.40" x2="141.78" y2="455.40" stroke="#222" stroke-width="0.9" />
<path d="M133.50 368.00 L133.50 365.80 Q133.50 364.80 134.50 364.80 L138.80 364.80 Q139.80 364.80 139.80 365.80 L139.80 368.00" fill="none" stroke="#1a1a1a" stroke-width="1.1"/>
<text x="134.72" y="365.82" font-size="8.6" text-anchor="middle" stroke="#333" stroke-width="0.3" fill="#333" >*</text>
<text x="138.58" y="365.82" font-size="8.6" text-anchor="middle" stroke="#333" stroke-width="0.3" fill="#333" >*</text>
<text x="139.88" y="533.20" font-size="10.8" text-anchor="end" transform="rotate(-42.5 139.88 533.20)" stroke="#222" stroke-width="0.15" fill="#222" word-spacing="-0.7">TG 50:0</text>
<rect x="149.05" y="392.80" width="3.80" height="128.90" fill="#fff" stroke="#111" stroke-width="1.0"/>
<line x1="150.95" y1="392.30" x2="150.95" y2="367.70" stroke="#222" stroke-width="1.0" />
<line x1="150.15" y1="368.10" x2="151.75" y2="368.10" stroke="#222" stroke-width="0.9" />
<rect x="154.55" y="455.80" width="5.00" height="66.40" fill="#000"/>
<line x1="157.05" y1="455.80" x2="157.05" y2="444.90" stroke="#222" stroke-width="1.0" />
<line x1="156.25" y1="445.30" x2="157.85" y2="445.30" stroke="#222" stroke-width="0.9" />
<path d="M148.80 365.80 L148.80 363.60 Q148.80 362.60 149.80 362.60 L154.10 362.60 Q155.10 362.60 155.10 363.60 L155.10 365.80" fill="none" stroke="#1a1a1a" stroke-width="1.1"/>
<text x="151.95" y="363.62" font-size="8.6" text-anchor="middle" stroke="#333" stroke-width="0.3" fill="#333" >*</text>
<text x="155.95" y="533.20" font-size="10.8" text-anchor="end" transform="rotate(-42.5 155.95 533.20)" stroke="#222" stroke-width="0.15" fill="#222" word-spacing="-0.7">TG 50:1</text>
<rect x="165.12" y="392.80" width="3.80" height="128.90" fill="#fff" stroke="#111" stroke-width="1.0"/>
<line x1="167.02" y1="392.30" x2="167.02" y2="366.00" stroke="#222" stroke-width="1.0" />
<line x1="166.22" y1="366.40" x2="167.82" y2="366.40" stroke="#222" stroke-width="0.9" />
<rect x="170.62" y="456.20" width="5.00" height="66.00" fill="#000"/>
<line x1="173.12" y1="456.20" x2="173.12" y2="443.80" stroke="#222" stroke-width="1.0" />
<line x1="172.32" y1="444.20" x2="173.92" y2="444.20" stroke="#222" stroke-width="0.9" />
<path d="M165.80 364.70 L165.80 362.50 Q165.80 361.50 166.80 361.50 L170.40 361.50 Q171.40 361.50 171.40 362.50 L171.40 364.70" fill="none" stroke="#1a1a1a" stroke-width="1.1"/>
<text x="168.60" y="362.52" font-size="8.6" text-anchor="middle" stroke="#333" stroke-width="0.3" fill="#333" >*</text>
<text x="172.02" y="533.20" font-size="10.8" text-anchor="end" transform="rotate(-42.5 172.02 533.20)" stroke="#222" stroke-width="0.15" fill="#222" word-spacing="-0.7">TG 50:2</text>
<rect x="181.19" y="392.80" width="3.80" height="128.90" fill="#fff" stroke="#111" stroke-width="1.0"/>
<line x1="183.09" y1="392.30" x2="183.09" y2="369.20" stroke="#222" stroke-width="1.0" />
<line x1="182.29" y1="369.60" x2="183.89" y2="369.60" stroke="#222" stroke-width="0.9" />
<rect x="186.69" y="454.70" width="5.00" height="67.50" fill="#000"/>
<line x1="189.19" y1="454.70" x2="189.19" y2="441.90" stroke="#222" stroke-width="1.0" />
<line x1="188.39" y1="442.30" x2="189.99" y2="442.30" stroke="#222" stroke-width="0.9" />
<path d="M181.60 367.70 L181.60 365.50 Q181.60 364.50 182.60 364.50 L186.70 364.50 Q187.70 364.50 187.70 365.50 L187.70 367.70" fill="none" stroke="#1a1a1a" stroke-width="1.1"/>
<text x="184.65" y="365.52" font-size="8.6" text-anchor="middle" stroke="#333" stroke-width="0.3" fill="#333" >*</text>
<text x="188.09" y="533.20" font-size="10.8" text-anchor="end" transform="rotate(-42.5 188.09 533.20)" stroke="#222" stroke-width="0.15" fill="#222" word-spacing="-0.7">TG 50:3</text>
<rect x="197.26" y="392.80" width="3.80" height="128.90" fill="#fff" stroke="#111" stroke-width="1.0"/>
<line x1="199.16" y1="392.30" x2="199.16" y2="372.80" stroke="#222" stroke-width="1.0" />
<line x1="198.36" y1="373.20" x2="199.96" y2="373.20" stroke="#222" stroke-width="0.9" />
<rect x="202.76" y="463.40" width="5.00" height="58.80" fill="#000"/>
<line x1="205.26" y1="463.40" x2="205.26" y2="453.30" stroke="#222" stroke-width="1.0" />
<line x1="204.46" y1="453.70" x2="206.06" y2="453.70" stroke="#222" stroke-width="0.9" />
<path d="M198.40 370.90 L198.40 368.70 Q198.40 367.70 199.40 367.70 L203.70 367.70 Q204.70 367.70 204.70 368.70 L204.70 370.90" fill="none" stroke="#1a1a1a" stroke-width="1.1"/>
<text x="199.62" y="368.72" font-size="8.6" text-anchor="middle" stroke="#333" stroke-width="0.3" fill="#333" >*</text>
<text x="203.48" y="368.72" font-size="8.6" text-anchor="middle" stroke="#333" stroke-width="0.3" fill="#333" >*</text>
<text x="204.16" y="533.20" font-size="10.8" text-anchor="end" transform="rotate(-42.5 204.16 533.20)" stroke="#222" stroke-width="0.15" fill="#222" word-spacing="-0.7">TG 50:4</text>
<rect x="213.33" y="392.80" width="3.80" height="128.90" fill="#fff" stroke="#111" stroke-width="1.0"/>
<line x1="215.23" y1="392.30" x2="215.23" y2="358.20" stroke="#222" stroke-width="1.0" />
<line x1="214.43" y1="358.60" x2="216.03" y2="358.60" stroke="#222" stroke-width="0.9" />
<rect x="218.83" y="433.90" width="5.00" height="88.30" fill="#000"/>
<line x1="221.33" y1="433.90" x2="221.33" y2="418.50" stroke="#222" stroke-width="1.0" />
<line x1="220.53" y1="418.90" x2="222.13" y2="418.90" stroke="#222" stroke-width="0.9" />
<text x="220.23" y="533.20" font-size="10.8" text-anchor="end" transform="rotate(-42.5 220.23 533.20)" stroke="#222" stroke-width="0.15" fill="#222" word-spacing="-0.7">TG 52:1</text>
<rect x="229.40" y="392.80" width="3.80" height="128.90" fill="#fff" stroke="#111" stroke-width="1.0"/>
<line x1="231.30" y1="392.30" x2="231.30" y2="365.30" stroke="#222" stroke-width="1.0" />
<line x1="230.50" y1="365.70" x2="232.10" y2="365.70" stroke="#222" stroke-width="0.9" />
<rect x="234.90" y="446.00" width="5.00" height="76.20" fill="#000"/>
<line x1="237.40" y1="446.00" x2="237.40" y2="432.80" stroke="#222" stroke-width="1.0" />
<line x1="236.60" y1="433.20" x2="238.20" y2="433.20" stroke="#222" stroke-width="0.9" />
<text x="236.30" y="533.20" font-size="10.8" text-anchor="end" transform="rotate(-42.5 236.30 533.20)" stroke="#222" stroke-width="0.15" fill="#222" word-spacing="-0.7">TG 52:2</text>
<rect x="245.47" y="392.80" width="3.80" height="128.90" fill="#fff" stroke="#111" stroke-width="1.0"/>
<line x1="247.37" y1="392.30" x2="247.37" y2="369.20" stroke="#222" stroke-width="1.0" />
<line x1="246.57" y1="369.60" x2="248.17" y2="369.60" stroke="#222" stroke-width="0.9" />
<rect x="250.97" y="443.10" width="5.00" height="79.10" fill="#000"/>
<line x1="253.47" y1="443.10" x2="253.47" y2="429.30" stroke="#222" stroke-width="1.0" />
<line x1="252.67" y1="429.70" x2="254.27" y2="429.70" stroke="#222" stroke-width="0.9" />
<text x="252.37" y="533.20" font-size="10.8" text-anchor="end" transform="rotate(-42.5 252.37 533.20)" stroke="#222" stroke-width="0.15" fill="#222" word-spacing="-0.7">TG 52:3</text>
<rect x="261.54" y="392.80" width="3.80" height="128.90" fill="#fff" stroke="#111" stroke-width="1.0"/>
<line x1="263.44" y1="392.30" x2="263.44" y2="375.00" stroke="#222" stroke-width="1.0" />
<line x1="262.64" y1="375.40" x2="264.24" y2="375.40" stroke="#222" stroke-width="0.9" />
<rect x="267.04" y="446.30" width="5.00" height="75.90" fill="#000"/>
<line x1="269.54" y1="446.30" x2="269.54" y2="435.30" stroke="#222" stroke-width="1.0" />
<line x1="268.74" y1="435.70" x2="270.34" y2="435.70" stroke="#222" stroke-width="0.9" />
<path d="M262.70 372.40 L262.70 370.20 Q262.70 369.20 263.70 369.20 L268.40 369.20 Q269.40 369.20 269.40 370.20 L269.40 372.40" fill="none" stroke="#1a1a1a" stroke-width="1.1"/>
<text x="266.05" y="370.22" font-size="8.6" text-anchor="middle" stroke="#333" stroke-width="0.3" fill="#333" >*</text>
<text x="268.44" y="533.20" font-size="10.8" text-anchor="end" transform="rotate(-42.5 268.44 533.20)" stroke="#222" stroke-width="0.15" fill="#222" word-spacing="-0.7">TG 52:4</text>
<rect x="277.61" y="392.80" width="3.80" height="128.90" fill="#fff" stroke="#111" stroke-width="1.0"/>
<line x1="279.51" y1="392.30" x2="279.51" y2="377.50" stroke="#222" stroke-width="1.0" />
<line x1="278.71" y1="377.90" x2="280.31" y2="377.90" stroke="#222" stroke-width="0.9" />
<rect x="283.11" y="449.90" width="5.00" height="72.30" fill="#000"/>
<line x1="285.61" y1="449.90" x2="285.61" y2="440.40" stroke="#222" stroke-width="1.0" />
<line x1="284.81" y1="440.80" x2="286.41" y2="440.80" stroke="#222" stroke-width="0.9" />
<path d="M278.50 375.60 L278.50 373.40 Q278.50 372.40 279.50 372.40 L283.00 372.40 Q284.00 372.40 284.00 373.40 L284.00 375.60" fill="none" stroke="#1a1a1a" stroke-width="1.1"/>
<text x="279.32" y="373.42" font-size="8.6" text-anchor="middle" stroke="#333" stroke-width="0.3" fill="#333" >*</text>
<text x="283.18" y="373.42" font-size="8.6" text-anchor="middle" stroke="#333" stroke-width="0.3" fill="#333" >*</text>
<text x="284.51" y="533.20" font-size="10.8" text-anchor="end" transform="rotate(-42.5 284.51 533.20)" stroke="#222" stroke-width="0.15" fill="#222" word-spacing="-0.7">TG 52:5</text>
<rect x="293.68" y="392.80" width="3.80" height="128.90" fill="#fff" stroke="#111" stroke-width="1.0"/>
<line x1="295.58" y1="392.30" x2="295.58" y2="365.10" stroke="#222" stroke-width="1.0" />
<line x1="294.78" y1="365.50" x2="296.38" y2="365.50" stroke="#222" stroke-width="0.9" />
<rect x="299.18" y="431.40" width="5.00" height="90.80" fill="#000"/>
<line x1="301.68" y1="431.40" x2="301.68" y2="418.80" stroke="#222" stroke-width="1.0" />
<line x1="300.88" y1="419.20" x2="302.48" y2="419.20" stroke="#222" stroke-width="0.9" />
<text x="300.58" y="533.20" font-size="10.8" text-anchor="end" transform="rotate(-42.5 300.58 533.20)" stroke="#222" stroke-width="0.15" fill="#222" word-spacing="-0.7">TG 54:2</text>
<rect x="309.75" y="392.80" width="3.80" height="128.90" fill="#fff" stroke="#111" stroke-width="1.0"/>
<line x1="311.65" y1="392.30" x2="311.65" y2="361.60" stroke="#222" stroke-width="1.0" />
<line x1="310.85" y1="362.00" x2="312.45" y2="362.00" stroke="#222" stroke-width="0.9" />
<rect x="315.25" y="424.40" width="5.00" height="97.80" fill="#000"/>
<line x1="317.75" y1="424.40" x2="317.75" y2="409.60" stroke="#222" stroke-width="1.0" />
<line x1="316.95" y1="410.00" x2="318.55" y2="410.00" stroke="#222" stroke-width="0.9" />
<text x="316.65" y="533.20" font-size="10.8" text-anchor="end" transform="rotate(-42.5 316.65 533.20)" stroke="#222" stroke-width="0.15" fill="#222" word-spacing="-0.7">TG 54:3</text>
<rect x="325.82" y="392.80" width="3.80" height="128.90" fill="#fff" stroke="#111" stroke-width="1.0"/>
<line x1="327.72" y1="392.30" x2="327.72" y2="370.40" stroke="#222" stroke-width="1.0" />
<line x1="326.92" y1="370.80" x2="328.52" y2="370.80" stroke="#222" stroke-width="0.9" />
<rect x="331.32" y="427.20" width="5.00" height="95.00" fill="#000"/>
<line x1="333.82" y1="427.20" x2="333.82" y2="415.60" stroke="#222" stroke-width="1.0" />
<line x1="333.02" y1="416.00" x2="334.62" y2="416.00" stroke="#222" stroke-width="0.9" />
<text x="332.72" y="533.20" font-size="10.8" text-anchor="end" transform="rotate(-42.5 332.72 533.20)" stroke="#222" stroke-width="0.15" fill="#222" word-spacing="-0.7">TG 54:4</text>
<rect x="341.89" y="392.80" width="3.80" height="128.90" fill="#fff" stroke="#111" stroke-width="1.0"/>
<line x1="343.79" y1="392.30" x2="343.79" y2="378.70" stroke="#222" stroke-width="1.0" />
<line x1="342.99" y1="379.10" x2="344.59" y2="379.10" stroke="#222" stroke-width="0.9" />
<rect x="347.39" y="428.00" width="5.00" height="94.20" fill="#000"/>
<line x1="349.89" y1="428.00" x2="349.89" y2="419.10" stroke="#222" stroke-width="1.0" />
<line x1="349.09" y1="419.50" x2="350.69" y2="419.50" stroke="#222" stroke-width="0.9" />
<path d="M342.90 376.00 L342.90 373.80 Q342.90 372.80 343.90 372.80 L347.90 372.80 Q348.90 372.80 348.90 373.80 L348.90 376.00" fill="none" stroke="#1a1a1a" stroke-width="1.1"/>
<text x="345.90" y="373.82" font-size="8.6" text-anchor="middle" stroke="#333" stroke-width="0.3" fill="#333" >*</text>
<text x="348.79" y="533.20" font-size="10.8" text-anchor="end" transform="rotate(-42.5 348.79 533.20)" stroke="#222" stroke-width="0.15" fill="#222" word-spacing="-0.7">TG 54:5</text>
<rect x="357.96" y="392.80" width="3.80" height="128.90" fill="#fff" stroke="#111" stroke-width="1.0"/>
<line x1="359.86" y1="392.30" x2="359.86" y2="376.80" stroke="#222" stroke-width="1.0" />
<line x1="359.06" y1="377.20" x2="360.66" y2="377.20" stroke="#222" stroke-width="0.9" />
<rect x="363.46" y="423.20" width="5.00" height="99.00" fill="#000"/>
<line x1="365.96" y1="423.20" x2="365.96" y2="414.50" stroke="#222" stroke-width="1.0" />
<line x1="365.16" y1="414.90" x2="366.76" y2="414.90" stroke="#222" stroke-width="0.9" />
<text x="364.86" y="533.20" font-size="10.8" text-anchor="end" transform="rotate(-42.5 364.86 533.20)" stroke="#222" stroke-width="0.15" fill="#222" word-spacing="-0.7">TG 54:6</text>
<rect x="374.03" y="392.80" width="3.80" height="128.90" fill="#fff" stroke="#111" stroke-width="1.0"/>
<line x1="375.93" y1="392.30" x2="375.93" y2="365.50" stroke="#222" stroke-width="1.0" />
<line x1="375.13" y1="365.90" x2="376.73" y2="365.90" stroke="#222" stroke-width="0.9" />
<rect x="379.53" y="428.30" width="5.00" height="93.90" fill="#000"/>
<line x1="382.03" y1="428.30" x2="382.03" y2="419.60" stroke="#222" stroke-width="1.0" />
<line x1="381.23" y1="420.00" x2="382.83" y2="420.00" stroke="#222" stroke-width="0.9" />
<text x="380.93" y="533.20" font-size="10.8" text-anchor="end" transform="rotate(-42.5 380.93 533.20)" stroke="#222" stroke-width="0.15" fill="#222" word-spacing="-0.7">TG 56:2</text>
<rect x="390.10" y="392.80" width="3.80" height="128.90" fill="#fff" stroke="#111" stroke-width="1.0"/>
<line x1="392.00" y1="392.30" x2="392.00" y2="361.50" stroke="#222" stroke-width="1.0" />
<line x1="391.20" y1="361.90" x2="392.80" y2="361.90" stroke="#222" stroke-width="0.9" />
<rect x="395.60" y="417.20" width="5.00" height="105.00" fill="#000"/>
<line x1="398.10" y1="417.20" x2="398.10" y2="403.20" stroke="#222" stroke-width="1.0" />
<line x1="397.30" y1="403.60" x2="398.90" y2="403.60" stroke="#222" stroke-width="0.9" />
<text x="397.00" y="533.20" font-size="10.8" text-anchor="end" transform="rotate(-42.5 397.00 533.20)" stroke="#222" stroke-width="0.15" fill="#222" word-spacing="-0.7">TG 56:3</text>
<rect x="406.17" y="392.80" width="3.80" height="128.90" fill="#fff" stroke="#111" stroke-width="1.0"/>
<line x1="408.07" y1="392.30" x2="408.07" y2="367.40" stroke="#222" stroke-width="1.0" />
<line x1="407.27" y1="367.80" x2="408.87" y2="367.80" stroke="#222" stroke-width="0.9" />
<rect x="411.67" y="414.20" width="5.00" height="108.00" fill="#000"/>
<line x1="414.17" y1="414.20" x2="414.17" y2="401.20" stroke="#222" stroke-width="1.0" />
<line x1="413.37" y1="401.60" x2="414.97" y2="401.60" stroke="#222" stroke-width="0.9" />
<text x="413.07" y="533.20" font-size="10.8" text-anchor="end" transform="rotate(-42.5 413.07 533.20)" stroke="#222" stroke-width="0.15" fill="#222" word-spacing="-0.7">TG 56:4</text>
<rect x="422.24" y="392.80" width="3.80" height="128.90" fill="#fff" stroke="#111" stroke-width="1.0"/>
<line x1="424.14" y1="392.30" x2="424.14" y2="372.90" stroke="#222" stroke-width="1.0" />
<line x1="423.34" y1="373.30" x2="424.94" y2="373.30" stroke="#222" stroke-width="0.9" />
<rect x="427.74" y="396.10" width="5.00" height="126.10" fill="#000"/>
<line x1="430.24" y1="396.10" x2="430.24" y2="382.30" stroke="#222" stroke-width="1.0" />
<line x1="429.44" y1="382.70" x2="431.04" y2="382.70" stroke="#222" stroke-width="0.9" />
<text x="429.14" y="533.20" font-size="10.8" text-anchor="end" transform="rotate(-42.5 429.14 533.20)" stroke="#222" stroke-width="0.15" fill="#222" word-spacing="-0.7">TG 56:5</text>
<rect x="438.31" y="392.80" width="3.80" height="128.90" fill="#fff" stroke="#111" stroke-width="1.0"/>
<line x1="440.21" y1="392.30" x2="440.21" y2="382.10" stroke="#222" stroke-width="1.0" />
<line x1="439.41" y1="382.50" x2="441.01" y2="382.50" stroke="#222" stroke-width="0.9" />
<rect x="443.81" y="389.30" width="5.00" height="132.90" fill="#000"/>
<line x1="446.31" y1="389.30" x2="446.31" y2="375.00" stroke="#222" stroke-width="1.0" />
<line x1="445.51" y1="375.40" x2="447.11" y2="375.40" stroke="#222" stroke-width="0.9" />
<text x="445.21" y="533.20" font-size="10.8" text-anchor="end" transform="rotate(-42.5 445.21 533.20)" stroke="#222" stroke-width="0.15" fill="#222" word-spacing="-0.7">TG 56:6</text>
<rect x="454.38" y="392.80" width="3.80" height="128.90" fill="#fff" stroke="#111" stroke-width="1.0"/>
<line x1="456.28" y1="392.30" x2="456.28" y2="383.10" stroke="#222" stroke-width="1.0" />
<line x1="455.48" y1="383.50" x2="457.08" y2="383.50" stroke="#222" stroke-width="0.9" />
<rect x="459.88" y="393.90" width="5.00" height="128.30" fill="#000"/>
<line x1="462.38" y1="393.90" x2="462.38" y2="379.00" stroke="#222" stroke-width="1.0" />
<line x1="461.58" y1="379.40" x2="463.18" y2="379.40" stroke="#222" stroke-width="0.9" />
<text x="461.28" y="533.20" font-size="10.8" text-anchor="end" transform="rotate(-42.5 461.28 533.20)" stroke="#222" stroke-width="0.15" fill="#222" word-spacing="-0.7">TG 56:7</text>
<rect x="470.45" y="392.80" width="3.80" height="128.90" fill="#fff" stroke="#111" stroke-width="1.0"/>
<line x1="472.35" y1="392.30" x2="472.35" y2="377.80" stroke="#222" stroke-width="1.0" />
<line x1="471.55" y1="378.20" x2="473.15" y2="378.20" stroke="#222" stroke-width="0.9" />
<rect x="475.95" y="399.10" width="5.00" height="123.10" fill="#000"/>
<line x1="478.45" y1="399.10" x2="478.45" y2="379.20" stroke="#222" stroke-width="1.0" />
<line x1="477.65" y1="379.60" x2="479.25" y2="379.60" stroke="#222" stroke-width="0.9" />
<text x="477.35" y="533.20" font-size="10.8" text-anchor="end" transform="rotate(-42.5 477.35 533.20)" stroke="#222" stroke-width="0.15" fill="#222" word-spacing="-0.7">TG 56:8</text>
<text x="506.93" y="337.60" font-size="13" font-weight="bold" fill="#000" >H</text>
<line x1="581.70" y1="337.60" x2="581.70" y2="530.90" stroke="#1a1a1a" stroke-width="1.4" />
<line x1="578.20" y1="530.20" x2="665.60" y2="530.20" stroke="#1a1a1a" stroke-width="1.4" />
<line x1="578.20" y1="469.10" x2="581.70" y2="469.10" stroke="#1a1a1a" stroke-width="1.4" />
<line x1="578.20" y1="408.00" x2="581.70" y2="408.00" stroke="#1a1a1a" stroke-width="1.4" />
<line x1="578.20" y1="346.90" x2="581.70" y2="346.90" stroke="#1a1a1a" stroke-width="1.4" />
<text x="574.30" y="533.50" font-size="11" text-anchor="end" font-weight="bold" fill="#1a1a1a" >0</text>
<text x="574.30" y="472.40" font-size="11" text-anchor="end" font-weight="bold" fill="#1a1a1a" >50</text>
<text x="574.30" y="411.30" font-size="11" text-anchor="end" font-weight="bold" fill="#1a1a1a" >100</text>
<text x="574.30" y="350.20" font-size="11" text-anchor="end" font-weight="bold" fill="#1a1a1a" >150</text>
<rect x="602.40" y="391.70" width="19.10" height="138.50" fill="#000"/>
<line x1="612.00" y1="391.70" x2="612.00" y2="372.50" stroke="#1a1a1a" stroke-width="1.4" />
<line x1="607.60" y1="372.50" x2="616.70" y2="372.50" stroke="#1a1a1a" stroke-width="1.4" />
<rect x="630.70" y="408.10" width="17.40" height="122.10" fill="#fff" stroke="#1a1a1a" stroke-width="1.4"/>
<line x1="639.40" y1="407.40" x2="639.40" y2="396.10" stroke="#1a1a1a" stroke-width="1.4" />
<line x1="635.20" y1="396.10" x2="644.30" y2="396.10" stroke="#1a1a1a" stroke-width="1.4" />
<text x="612.90" y="546.70" font-size="11.6" font-weight="bold" textLength="26.40" lengthAdjust="spacing" fill="#1a1a1a" >Fasn</text>
<text x="543.80" y="438.70" font-size="14.9" text-anchor="middle" transform="rotate(-90 543.80 438.70)" stroke="#1e1e1e" stroke-width="0.15" fill="#1e1e1e" >mRNA expression (% of Ctrl)</text>
<text x="4.80" y="584.60" font-size="13.5" font-weight="bold" fill="#000" >I</text>
<text x="107.50" y="583.40" font-size="13" text-anchor="middle" font-weight="bold" fill="#000" >ALT</text>
<line x1="46.70" y1="779.90" x2="167.70" y2="779.90" stroke="#a6a6a6" stroke-width="1.0" />
<text x="39.56" y="783.69" font-size="11.4" text-anchor="end" stroke="#222" stroke-width="0.15" fill="#222" >0.0</text>
<line x1="46.70" y1="753.64" x2="167.70" y2="753.64" stroke="#a6a6a6" stroke-width="1.0" />
<text x="39.56" y="757.43" font-size="11.4" text-anchor="end" stroke="#222" stroke-width="0.15" fill="#222" >0.2</text>
<line x1="46.70" y1="727.39" x2="167.70" y2="727.39" stroke="#a6a6a6" stroke-width="1.0" />
<text x="39.56" y="731.18" font-size="11.4" text-anchor="end" stroke="#222" stroke-width="0.15" fill="#222" >0.4</text>
<line x1="46.70" y1="701.13" x2="167.70" y2="701.13" stroke="#a6a6a6" stroke-width="1.0" />
<text x="39.56" y="704.92" font-size="11.4" text-anchor="end" stroke="#222" stroke-width="0.15" fill="#222" >0.6</text>
<line x1="46.70" y1="674.87" x2="167.70" y2="674.87" stroke="#a6a6a6" stroke-width="1.0" />
<text x="39.56" y="678.66" font-size="11.4" text-anchor="end" stroke="#222" stroke-width="0.15" fill="#222" >0.8</text>
<line x1="46.70" y1="648.61" x2="167.70" y2="648.61" stroke="#a6a6a6" stroke-width="1.0" />
<text x="39.56" y="652.40" font-size="11.4" text-anchor="end" stroke="#222" stroke-width="0.15" fill="#222" >1.0</text>
<line x1="46.70" y1="622.36" x2="167.70" y2="622.36" stroke="#a6a6a6" stroke-width="1.0" />
<text x="39.56" y="626.15" font-size="11.4" text-anchor="end" stroke="#222" stroke-width="0.15" fill="#222" >1.2</text>
<line x1="46.70" y1="596.10" x2="167.70" y2="596.10" stroke="#a6a6a6" stroke-width="1.0" />
<text x="39.56" y="599.89" font-size="11.4" text-anchor="end" stroke="#222" stroke-width="0.15" fill="#222" >1.4</text>
<line x1="50.30" y1="596.10" x2="50.30" y2="779.90" stroke="#a6a6a6" stroke-width="1.2" />
<line x1="46.70" y1="779.90" x2="167.70" y2="779.90" stroke="#9c9c9c" stroke-width="1.3" />
<line x1="50.30" y1="779.90" x2="50.30" y2="783.50" stroke="#a6a6a6" stroke-width="1.0" />
<text x="50.30" y="798.80" font-size="11.6" text-anchor="middle" stroke="#222" stroke-width="0.15" fill="#222" >0</text>
<line x1="69.87" y1="779.90" x2="69.87" y2="783.50" stroke="#a6a6a6" stroke-width="1.0" />
<text x="69.87" y="798.80" font-size="11.6" text-anchor="middle" stroke="#222" stroke-width="0.15" fill="#222" >1</text>
<line x1="89.44" y1="779.90" x2="89.44" y2="783.50" stroke="#a6a6a6" stroke-width="1.0" />
<text x="89.44" y="798.80" font-size="11.6" text-anchor="middle" stroke="#222" stroke-width="0.15" fill="#222" >2</text>
<line x1="109.01" y1="779.90" x2="109.01" y2="783.50" stroke="#a6a6a6" stroke-width="1.0" />
<text x="109.01" y="798.80" font-size="11.6" text-anchor="middle" stroke="#222" stroke-width="0.15" fill="#222" >3</text>
<line x1="128.58" y1="779.90" x2="128.58" y2="783.50" stroke="#a6a6a6" stroke-width="1.0" />
<text x="128.58" y="798.80" font-size="11.6" text-anchor="middle" stroke="#222" stroke-width="0.15" fill="#222" >4</text>
<line x1="148.15" y1="779.90" x2="148.15" y2="783.50" stroke="#a6a6a6" stroke-width="1.0" />
<text x="148.15" y="798.80" font-size="11.6" text-anchor="middle" stroke="#222" stroke-width="0.15" fill="#222" >5</text>
<line x1="167.72" y1="779.90" x2="167.72" y2="783.50" stroke="#a6a6a6" stroke-width="1.0" />
<text x="167.72" y="798.80" font-size="11.6" text-anchor="middle" stroke="#222" stroke-width="0.15" fill="#222" >6</text>
<text x="109.30" y="815.90" font-size="13.5" text-anchor="middle" stroke="#222" stroke-width="0.15" fill="#222" >Patients</text>
<path d="M69.87 685.91 L73.17 689.31 L69.87 692.71 L66.57 689.31Z" fill="#0000ff"/>
<path d="M89.44 645.21 L92.74 648.61 L89.44 652.01 L86.14 648.61Z" fill="#0000ff"/>
<path d="M109.01 680.66 L112.31 684.06 L109.01 687.46 L105.71 684.06Z" fill="#0000ff"/>
<path d="M128.58 618.96 L131.88 622.36 L128.58 625.76 L125.28 622.36Z" fill="#0000ff"/>
<path d="M148.15 702.98 L151.45 706.38 L148.15 709.78 L144.85 706.38Z" fill="#0000ff"/>
<path d="M167.72 645.21 L171.02 648.61 L167.72 652.01 L164.42 648.61Z" fill="#0000ff"/>
<rect x="66.37" y="705.61" width="7.00" height="6.80" fill="#ff0000"/>
<rect x="85.94" y="680.66" width="7.00" height="6.80" fill="#ff0000"/>
<rect x="105.51" y="701.67" width="7.00" height="6.80" fill="#ff0000"/>
<rect x="125.08" y="689.85" width="7.00" height="6.80" fill="#ff0000"/>
<rect x="144.65" y="709.54" width="7.00" height="6.80" fill="#ff0000"/>
<rect x="164.22" y="668.85" width="7.00" height="6.80" fill="#ff0000"/>
<text x="179.00" y="584.60" font-size="13.5" font-weight="bold" fill="#000" >J</text>
<text x="276.20" y="583.40" font-size="13" text-anchor="middle" font-weight="bold" fill="#000" >AST</text>
<line x1="211.30" y1="779.30" x2="339.40" y2="779.30" stroke="#a6a6a6" stroke-width="1.0" />
<text x="204.78" y="783.30" font-size="12.0" text-anchor="end" stroke="#222" stroke-width="0.15" fill="#222" >0.0</text>
<line x1="211.30" y1="755.72" x2="339.40" y2="755.72" stroke="#a6a6a6" stroke-width="1.0" />
<text x="204.78" y="759.72" font-size="12.0" text-anchor="end" stroke="#222" stroke-width="0.15" fill="#222" >0.1</text>
<line x1="211.30" y1="732.15" x2="339.40" y2="732.15" stroke="#a6a6a6" stroke-width="1.0" />
<text x="204.78" y="736.15" font-size="12.0" text-anchor="end" stroke="#222" stroke-width="0.15" fill="#222" >0.2</text>
<line x1="211.30" y1="708.58" x2="339.40" y2="708.58" stroke="#a6a6a6" stroke-width="1.0" />
<text x="204.78" y="712.58" font-size="12.0" text-anchor="end" stroke="#222" stroke-width="0.15" fill="#222" >0.3</text>
<line x1="211.30" y1="685.00" x2="339.40" y2="685.00" stroke="#a6a6a6" stroke-width="1.0" />
<text x="204.78" y="689.00" font-size="12.0" text-anchor="end" stroke="#222" stroke-width="0.15" fill="#222" >0.4</text>
<line x1="211.30" y1="661.42" x2="339.40" y2="661.42" stroke="#a6a6a6" stroke-width="1.0" />
<text x="204.78" y="665.42" font-size="12.0" text-anchor="end" stroke="#222" stroke-width="0.15" fill="#222" >0.5</text>
<line x1="211.30" y1="637.85" x2="339.40" y2="637.85" stroke="#a6a6a6" stroke-width="1.0" />
<text x="204.78" y="641.85" font-size="12.0" text-anchor="end" stroke="#222" stroke-width="0.15" fill="#222" >0.6</text>
<line x1="211.30" y1="614.28" x2="339.40" y2="614.28" stroke="#a6a6a6" stroke-width="1.0" />
<text x="204.78" y="618.28" font-size="12.0" text-anchor="end" stroke="#222" stroke-width="0.15" fill="#222" >0.7</text>
<line x1="211.30" y1="590.70" x2="339.40" y2="590.70" stroke="#a6a6a6" stroke-width="1.0" />
<text x="204.78" y="594.70" font-size="12.0" text-anchor="end" stroke="#222" stroke-width="0.15" fill="#222" >0.8</text>
<line x1="214.90" y1="590.70" x2="214.90" y2="779.30" stroke="#a6a6a6" stroke-width="1.2" />
<line x1="211.30" y1="779.30" x2="339.40" y2="779.30" stroke="#9c9c9c" stroke-width="1.3" />
<line x1="214.90" y1="779.30" x2="214.90" y2="782.90" stroke="#a6a6a6" stroke-width="1.0" />
<text x="214.90" y="797.80" font-size="11.6" text-anchor="middle" stroke="#222" stroke-width="0.15" fill="#222" >0</text>
<line x1="235.65" y1="779.30" x2="235.65" y2="782.90" stroke="#a6a6a6" stroke-width="1.0" />
<text x="235.65" y="797.80" font-size="11.6" text-anchor="middle" stroke="#222" stroke-width="0.15" fill="#222" >1</text>
<line x1="256.40" y1="779.30" x2="256.40" y2="782.90" stroke="#a6a6a6" stroke-width="1.0" />
<text x="256.40" y="797.80" font-size="11.6" text-anchor="middle" stroke="#222" stroke-width="0.15" fill="#222" >2</text>
<line x1="277.15" y1="779.30" x2="277.15" y2="782.90" stroke="#a6a6a6" stroke-width="1.0" />
<text x="277.15" y="797.80" font-size="11.6" text-anchor="middle" stroke="#222" stroke-width="0.15" fill="#222" >3</text>
<line x1="297.90" y1="779.30" x2="297.90" y2="782.90" stroke="#a6a6a6" stroke-width="1.0" />
<text x="297.90" y="797.80" font-size="11.6" text-anchor="middle" stroke="#222" stroke-width="0.15" fill="#222" >4</text>
<line x1="318.65" y1="779.30" x2="318.65" y2="782.90" stroke="#a6a6a6" stroke-width="1.0" />
<text x="318.65" y="797.80" font-size="11.6" text-anchor="middle" stroke="#222" stroke-width="0.15" fill="#222" >5</text>
<line x1="339.40" y1="779.30" x2="339.40" y2="782.90" stroke="#a6a6a6" stroke-width="1.0" />
<text x="339.40" y="797.80" font-size="11.6" text-anchor="middle" stroke="#222" stroke-width="0.15" fill="#222" >6</text>
<text x="281.00" y="815.90" font-size="13.5" text-anchor="middle" stroke="#222" stroke-width="0.15" fill="#222" >Patients</text>
<path d="M235.65 653.31 L238.95 656.71 L235.65 660.11 L232.35 656.71Z" fill="#0000ff"/>
<path d="M256.40 596.73 L259.70 600.13 L256.40 603.53 L253.10 600.13Z" fill="#0000ff"/>
<path d="M277.15 681.60 L280.45 685.00 L277.15 688.40 L273.85 685.00Z" fill="#0000ff"/>
<path d="M297.90 617.95 L301.20 621.35 L297.90 624.75 L294.60 621.35Z" fill="#0000ff"/>
<path d="M318.65 636.81 L321.95 640.21 L318.65 643.61 L315.35 640.21Z" fill="#0000ff"/>
<path d="M339.40 639.17 L342.70 642.57 L339.40 645.97 L336.10 642.57Z" fill="#0000ff"/>
<rect x="232.15" y="686.32" width="7.00" height="6.80" fill="#ff0000"/>
<rect x="252.90" y="615.59" width="7.00" height="6.80" fill="#ff0000"/>
<rect x="273.65" y="698.10" width="7.00" height="6.80" fill="#ff0000"/>
<rect x="294.40" y="674.53" width="7.00" height="6.80" fill="#ff0000"/>
<rect x="315.15" y="643.88" width="7.00" height="6.80" fill="#ff0000"/>
<rect x="335.90" y="679.24" width="7.00" height="6.80" fill="#ff0000"/>
<text x="344.30" y="584.80" font-size="13.5" font-weight="bold" fill="#000" >K</text>
<text x="447.40" y="583.40" font-size="13" text-anchor="middle" font-weight="bold" fill="#000" >ALP</text>
<line x1="379.80" y1="779.50" x2="504.70" y2="779.50" stroke="#a6a6a6" stroke-width="1.0" />
<text x="373.58" y="783.50" font-size="12.0" text-anchor="end" stroke="#222" stroke-width="0.15" fill="#222" >0.0</text>
<line x1="379.80" y1="758.53" x2="504.70" y2="758.53" stroke="#a6a6a6" stroke-width="1.0" />
<text x="373.58" y="762.53" font-size="12.0" text-anchor="end" stroke="#222" stroke-width="0.15" fill="#222" >0.2</text>
<line x1="379.80" y1="737.57" x2="504.70" y2="737.57" stroke="#a6a6a6" stroke-width="1.0" />
<text x="373.58" y="741.57" font-size="12.0" text-anchor="end" stroke="#222" stroke-width="0.15" fill="#222" >0.4</text>
<line x1="379.80" y1="716.60" x2="504.70" y2="716.60" stroke="#a6a6a6" stroke-width="1.0" />
<text x="373.58" y="720.60" font-size="12.0" text-anchor="end" stroke="#222" stroke-width="0.15" fill="#222" >0.6</text>
<line x1="379.80" y1="695.63" x2="504.70" y2="695.63" stroke="#a6a6a6" stroke-width="1.0" />
<text x="373.58" y="699.63" font-size="12.0" text-anchor="end" stroke="#222" stroke-width="0.15" fill="#222" >0.8</text>
<line x1="379.80" y1="674.67" x2="504.70" y2="674.67" stroke="#a6a6a6" stroke-width="1.0" />
<text x="373.58" y="678.67" font-size="12.0" text-anchor="end" stroke="#222" stroke-width="0.15" fill="#222" >1.0</text>
<line x1="379.80" y1="653.70" x2="504.70" y2="653.70" stroke="#a6a6a6" stroke-width="1.0" />
<text x="373.58" y="657.70" font-size="12.0" text-anchor="end" stroke="#222" stroke-width="0.15" fill="#222" >1.2</text>
<line x1="379.80" y1="632.73" x2="504.70" y2="632.73" stroke="#a6a6a6" stroke-width="1.0" />
<text x="373.58" y="636.73" font-size="12.0" text-anchor="end" stroke="#222" stroke-width="0.15" fill="#222" >1.4</text>
<line x1="379.80" y1="611.77" x2="504.70" y2="611.77" stroke="#a6a6a6" stroke-width="1.0" />
<text x="373.58" y="615.77" font-size="12.0" text-anchor="end" stroke="#222" stroke-width="0.15" fill="#222" >1.6</text>
<line x1="379.80" y1="590.80" x2="504.70" y2="590.80" stroke="#a6a6a6" stroke-width="1.0" />
<text x="373.58" y="594.80" font-size="12.0" text-anchor="end" stroke="#222" stroke-width="0.15" fill="#222" >1.8</text>
<line x1="383.40" y1="590.80" x2="383.40" y2="779.50" stroke="#a6a6a6" stroke-width="1.2" />
<line x1="379.80" y1="779.50" x2="504.70" y2="779.50" stroke="#9c9c9c" stroke-width="1.3" />
<line x1="383.40" y1="779.50" x2="383.40" y2="783.10" stroke="#a6a6a6" stroke-width="1.0" />
<text x="383.40" y="798.50" font-size="11.6" text-anchor="middle" stroke="#222" stroke-width="0.15" fill="#222" >0</text>
<line x1="403.62" y1="779.50" x2="403.62" y2="783.10" stroke="#a6a6a6" stroke-width="1.0" />
<text x="403.62" y="798.50" font-size="11.6" text-anchor="middle" stroke="#222" stroke-width="0.15" fill="#222" >1</text>
<line x1="423.84" y1="779.50" x2="423.84" y2="783.10" stroke="#a6a6a6" stroke-width="1.0" />
<text x="423.84" y="798.50" font-size="11.6" text-anchor="middle" stroke="#222" stroke-width="0.15" fill="#222" >2</text>
<line x1="444.06" y1="779.50" x2="444.06" y2="783.10" stroke="#a6a6a6" stroke-width="1.0" />
<text x="444.06" y="798.50" font-size="11.6" text-anchor="middle" stroke="#222" stroke-width="0.15" fill="#222" >3</text>
<line x1="464.28" y1="779.50" x2="464.28" y2="783.10" stroke="#a6a6a6" stroke-width="1.0" />
<text x="464.28" y="798.50" font-size="11.6" text-anchor="middle" stroke="#222" stroke-width="0.15" fill="#222" >4</text>
<line x1="484.50" y1="779.50" x2="484.50" y2="783.10" stroke="#a6a6a6" stroke-width="1.0" />
<text x="484.50" y="798.50" font-size="11.6" text-anchor="middle" stroke="#222" stroke-width="0.15" fill="#222" >5</text>
<line x1="504.72" y1="779.50" x2="504.72" y2="783.10" stroke="#a6a6a6" stroke-width="1.0" />
<text x="504.72" y="798.50" font-size="11.6" text-anchor="middle" stroke="#222" stroke-width="0.15" fill="#222" >6</text>
<text x="448.80" y="815.90" font-size="13.5" text-anchor="middle" stroke="#222" stroke-width="0.15" fill="#222" >Patients</text>
<path d="M403.62 597.88 L406.92 601.28 L403.62 604.68 L400.32 601.28Z" fill="#0000ff"/>
<path d="M423.84 660.78 L427.14 664.18 L423.84 667.58 L420.54 664.18Z" fill="#0000ff"/>
<path d="M444.06 673.36 L447.36 676.76 L444.06 680.16 L440.76 676.76Z" fill="#0000ff"/>
<path d="M464.28 639.82 L467.58 643.22 L464.28 646.62 L460.98 643.22Z" fill="#0000ff"/>
<path d="M484.50 618.85 L487.80 622.25 L484.50 625.65 L481.20 622.25Z" fill="#0000ff"/>
<path d="M504.72 650.30 L508.02 653.70 L504.72 657.10 L501.42 653.70Z" fill="#0000ff"/>
<rect x="400.12" y="608.37" width="7.00" height="6.80" fill="#ff0000"/>
<rect x="420.34" y="672.32" width="7.00" height="6.80" fill="#ff0000"/>
<rect x="440.56" y="683.85" width="7.00" height="6.80" fill="#ff0000"/>
<rect x="460.78" y="629.33" width="7.00" height="6.80" fill="#ff0000"/>
<rect x="481.00" y="629.33" width="7.00" height="6.80" fill="#ff0000"/>
<rect x="501.22" y="671.27" width="7.00" height="6.80" fill="#ff0000"/>
<text x="509.60" y="581.60" font-size="13.5" font-weight="bold" fill="#000" >L</text>
<text x="613.60" y="583.40" font-size="13" text-anchor="middle" font-weight="bold" fill="#000" >TG</text>
<line x1="546.70" y1="783.20" x2="675.10" y2="783.20" stroke="#a6a6a6" stroke-width="1.0" />
<text x="540.09" y="787.27" font-size="12.2" text-anchor="end" stroke="#222" stroke-width="0.15" fill="#222" >0</text>
<line x1="546.70" y1="744.26" x2="675.10" y2="744.26" stroke="#a6a6a6" stroke-width="1.0" />
<text x="540.09" y="748.33" font-size="12.2" text-anchor="end" stroke="#222" stroke-width="0.15" fill="#222" >5</text>
<line x1="546.70" y1="705.32" x2="675.10" y2="705.32" stroke="#a6a6a6" stroke-width="1.0" />
<text x="540.09" y="709.39" font-size="12.2" text-anchor="end" stroke="#222" stroke-width="0.15" fill="#222" >10</text>
<line x1="546.70" y1="666.38" x2="675.10" y2="666.38" stroke="#a6a6a6" stroke-width="1.0" />
<text x="540.09" y="670.45" font-size="12.2" text-anchor="end" stroke="#222" stroke-width="0.15" fill="#222" >15</text>
<line x1="546.70" y1="627.44" x2="675.10" y2="627.44" stroke="#a6a6a6" stroke-width="1.0" />
<text x="540.09" y="631.51" font-size="12.2" text-anchor="end" stroke="#222" stroke-width="0.15" fill="#222" >20</text>
<line x1="546.70" y1="588.50" x2="675.10" y2="588.50" stroke="#a6a6a6" stroke-width="1.0" />
<text x="540.09" y="592.57" font-size="12.2" text-anchor="end" stroke="#222" stroke-width="0.15" fill="#222" >25</text>
<line x1="550.30" y1="588.50" x2="550.30" y2="783.20" stroke="#a6a6a6" stroke-width="1.2" />
<line x1="546.70" y1="783.20" x2="675.10" y2="783.20" stroke="#9c9c9c" stroke-width="1.3" />
<line x1="550.30" y1="783.20" x2="550.30" y2="786.80" stroke="#a6a6a6" stroke-width="1.0" />
<text x="550.30" y="802.20" font-size="11.6" text-anchor="middle" stroke="#222" stroke-width="0.15" fill="#222" >0</text>
<line x1="571.10" y1="783.20" x2="571.10" y2="786.80" stroke="#a6a6a6" stroke-width="1.0" />
<text x="571.10" y="802.20" font-size="11.6" text-anchor="middle" stroke="#222" stroke-width="0.15" fill="#222" >1</text>
<line x1="591.90" y1="783.20" x2="591.90" y2="786.80" stroke="#a6a6a6" stroke-width="1.0" />
<text x="591.90" y="802.20" font-size="11.6" text-anchor="middle" stroke="#222" stroke-width="0.15" fill="#222" >2</text>
<line x1="612.70" y1="783.20" x2="612.70" y2="786.80" stroke="#a6a6a6" stroke-width="1.0" />
<text x="612.70" y="802.20" font-size="11.6" text-anchor="middle" stroke="#222" stroke-width="0.15" fill="#222" >3</text>
<line x1="633.50" y1="783.20" x2="633.50" y2="786.80" stroke="#a6a6a6" stroke-width="1.0" />
<text x="633.50" y="802.20" font-size="11.6" text-anchor="middle" stroke="#222" stroke-width="0.15" fill="#222" >4</text>
<line x1="654.30" y1="783.20" x2="654.30" y2="786.80" stroke="#a6a6a6" stroke-width="1.0" />
<text x="654.30" y="802.20" font-size="11.6" text-anchor="middle" stroke="#222" stroke-width="0.15" fill="#222" >5</text>
<line x1="675.10" y1="783.20" x2="675.10" y2="786.80" stroke="#a6a6a6" stroke-width="1.0" />
<text x="675.10" y="802.20" font-size="11.6" text-anchor="middle" stroke="#222" stroke-width="0.15" fill="#222" >6</text>
<text x="617.00" y="815.90" font-size="13.5" text-anchor="middle" stroke="#222" stroke-width="0.15" fill="#222" >Patients</text>
<path d="M571.10 759.94 L574.40 763.34 L571.10 766.74 L567.80 763.34Z" fill="#0000ff"/>
<path d="M591.90 757.76 L595.20 761.16 L591.90 764.56 L588.60 761.16Z" fill="#0000ff"/>
<path d="M612.70 749.43 L616.00 752.83 L612.70 756.23 L609.40 752.83Z" fill="#0000ff"/>
<path d="M633.50 760.33 L636.80 763.73 L633.50 767.13 L630.20 763.73Z" fill="#0000ff"/>
<path d="M654.30 616.25 L657.60 619.65 L654.30 623.05 L651.00 619.65Z" fill="#0000ff"/>
<path d="M675.10 712.82 L678.40 716.22 L675.10 719.62 L671.80 716.22Z" fill="#0000ff"/>
<rect x="567.60" y="764.22" width="7.00" height="6.80" fill="#ff0000"/>
<rect x="588.40" y="771.23" width="7.00" height="6.80" fill="#ff0000"/>
<rect x="609.20" y="745.53" width="7.00" height="6.80" fill="#ff0000"/>
<rect x="630.00" y="757.99" width="7.00" height="6.80" fill="#ff0000"/>
<rect x="650.80" y="738.52" width="7.00" height="6.80" fill="#ff0000"/>
<rect x="671.60" y="731.13" width="7.00" height="6.80" fill="#ff0000"/>
<rect x="53.70" y="600.50" width="16.00" height="13.30" fill="#0000ff"/>
<text x="73.60" y="611.90" font-size="10.6" stroke="#222" stroke-width="0.15" fill="#222" >Before</text>
<rect x="110.10" y="600.50" width="15.70" height="13.30" fill="#ff0000"/>
<text x="129.80" y="611.90" font-size="10.6" stroke="#222" stroke-width="0.15" fill="#222" >After</text>
<text x="11.50" y="682.50" font-size="13.3" text-anchor="middle" font-weight="bold" transform="rotate(-90 11.50 682.50)" fill="#000" >U/L</text>
</svg>
</body></html>
